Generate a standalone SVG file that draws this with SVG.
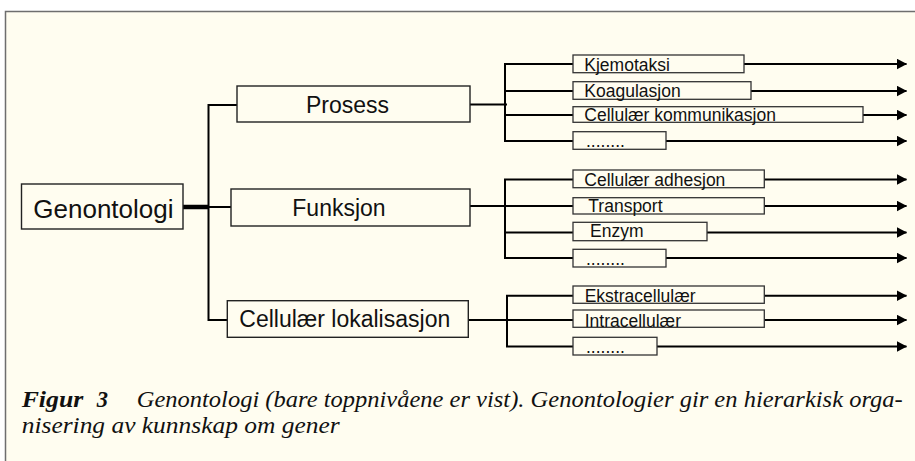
<svg xmlns="http://www.w3.org/2000/svg" width="915" height="461" viewBox="0 0 915 461">
<defs>
<marker id="arr" markerUnits="userSpaceOnUse" markerWidth="11" markerHeight="12" refX="10" refY="5.5" orient="auto">
<path d="M0,0 L10.5,5.5 L0,11 z" fill="#000"/>
</marker>
</defs>
<style>
.box{fill:#FFFDF0;stroke:#222;stroke-width:1.4}
.cbox{fill:#FFFDF0;stroke:#333;stroke-width:1.3}
.ln{fill:none;stroke:#000;stroke-width:2}
.ar{fill:none;stroke:#000;stroke-width:2;marker-end:url(#arr)}
.big{font-family:"Liberation Sans",Arial,sans-serif;font-size:23px;fill:#111}
.sm{font-family:"Liberation Sans",Arial,sans-serif;font-size:17.5px;fill:#111}
.cap{font-family:"Liberation Serif","Times New Roman",serif;font-size:22.5px;font-style:italic;fill:#111}
</style>
<rect x="0" y="0" width="915" height="461" fill="#FFFFFF"/>
<rect x="5.5" y="11.5" width="915" height="460" fill="#FFFDF0" stroke="#6E6E6E" stroke-width="1.5"/>

<g id="connectors">
<line x1="183" y1="207" x2="209" y2="207" stroke="#000" stroke-width="4.5"/>
<polyline class="ln" points="237,105 208.5,105 208.5,320 227,320"/>
<line class="ln" x1="208.5" y1="207" x2="231" y2="207"/>

<line class="ln" x1="470" y1="104.5" x2="507" y2="104.5"/>
<polyline class="ln" points="573,64 505,64 505,141 573,141"/>
<line class="ln" x1="505" y1="91" x2="573" y2="91"/>
<line class="ln" x1="505" y1="115" x2="573" y2="115"/>
<line class="ar" x1="744" y1="64" x2="906.5" y2="64"/>
<line class="ar" x1="751" y1="91" x2="906.5" y2="91"/>
<line class="ar" x1="863" y1="115" x2="906.5" y2="115"/>
<line class="ar" x1="666" y1="141" x2="906.5" y2="141"/>

<line class="ln" x1="470" y1="206" x2="505" y2="206"/>
<polyline class="ln" points="573,179.5 505,179.5 505,258 573,258"/>
<line class="ln" x1="505" y1="206" x2="573" y2="206"/>
<line class="ln" x1="505" y1="232.5" x2="573" y2="232.5"/>
<line class="ar" x1="764" y1="179.5" x2="906.5" y2="179.5"/>
<line class="ar" x1="764" y1="206" x2="906.5" y2="206"/>
<line class="ar" x1="707" y1="232.5" x2="906.5" y2="232.5"/>
<line class="ar" x1="666" y1="258" x2="906.5" y2="258"/>

<line class="ln" x1="468" y1="320" x2="508" y2="320"/>
<polyline class="ln" points="573,295.7 507,295.7 507,346.5 573,346.5"/>
<line class="ln" x1="507" y1="320" x2="573" y2="320"/>
<line class="ar" x1="764" y1="295.7" x2="906.5" y2="295.7"/>
<line class="ar" x1="764" y1="320" x2="906.5" y2="320"/>
<line class="ar" x1="657" y1="346.5" x2="906.5" y2="346.5"/>
</g>

<g id="genontologi">
<rect class="box" x="21.5" y="184" width="161.5" height="45"/>
<text x="33.3" y="218.3" font-family="Liberation Sans, Arial, sans-serif" font-size="26" fill="#111">Genontologi</text>
</g>
<g id="prosess">
<rect class="box" x="237" y="86" width="233" height="36"/>
<text class="big" x="306" y="113.3">Prosess</text>
</g>
<g id="funksjon">
<rect class="box" x="231" y="189" width="239" height="37"/>
<text class="big" x="292.3" y="216">Funksjon</text>
</g>
<g id="cellulaer-lokalisasjon">
<rect class="box" x="227.3" y="300.7" width="241" height="36.6"/>
<text class="big" x="239.3" y="326.7" font-size="23.4">Cellulær lokalisasjon</text>
</g>

<g id="kjemotaksi">
<rect class="cbox" x="573" y="55" width="171" height="17.7"/>
<text class="sm" x="584.3" y="71">Kjemotaksi</text>
</g>
<g id="koagulasjon">
<rect class="cbox" x="573" y="81.7" width="178" height="17.6"/>
<text class="sm" x="584.3" y="97.3">Koagulasjon</text>
</g>
<g id="cellulaer-kommunikasjon">
<rect class="cbox" x="573" y="106.7" width="290" height="15.6"/>
<text class="sm" x="584.3" y="120.7">Cellulær kommunikasjon</text>
</g>
<g id="prosess-more">
<rect class="cbox" x="573" y="131.7" width="93" height="17.6"/>
<text class="sm" x="586" y="147">........</text>
</g>

<g id="cellulaer-adhesjon">
<rect class="cbox" x="573" y="170" width="191.3" height="17.7"/>
<text class="sm" x="584.3" y="185.7">Cellulær adhesjon</text>
</g>
<g id="transport">
<rect class="cbox" x="573" y="197.7" width="191.3" height="16.3"/>
<text class="sm" x="588.3" y="211.7">Transport</text>
</g>
<g id="enzym">
<rect class="cbox" x="573" y="222.3" width="134" height="18.4"/>
<text class="sm" x="590" y="236.7">Enzym</text>
</g>
<g id="funksjon-more">
<rect class="cbox" x="573" y="249.3" width="93" height="17.7"/>
<text class="sm" x="586" y="264.5">........</text>
</g>

<g id="ekstracellulaer">
<rect class="cbox" x="573" y="286" width="191.3" height="17.3"/>
<text class="sm" x="584.7" y="302">Ekstracellulær</text>
</g>
<g id="intracellulaer">
<rect class="cbox" x="573" y="310" width="191.3" height="17.3"/>
<text class="sm" x="584.7" y="326.5">Intracellulær</text>
</g>
<g id="lokalisasjon-more">
<rect class="cbox" x="573" y="337.3" width="84" height="17.7"/>
<text class="sm" x="586" y="352.5">........</text>
</g>

<g id="caption">
<text class="cap" x="21.7" y="406.5" font-weight="bold" textLength="61.6" lengthAdjust="spacingAndGlyphs">Figur</text>
<text class="cap" x="96.7" y="406.5" font-weight="bold">3</text>
<text class="cap" x="136.7" y="406.5" textLength="766" lengthAdjust="spacingAndGlyphs">Genontologi (bare toppnivåene er vist). Genontologier gir en hierarkisk orga-</text>
<text class="cap" x="21.7" y="432.7" textLength="318" lengthAdjust="spacingAndGlyphs">nisering av kunnskap om gener</text>
</g>
</svg>
